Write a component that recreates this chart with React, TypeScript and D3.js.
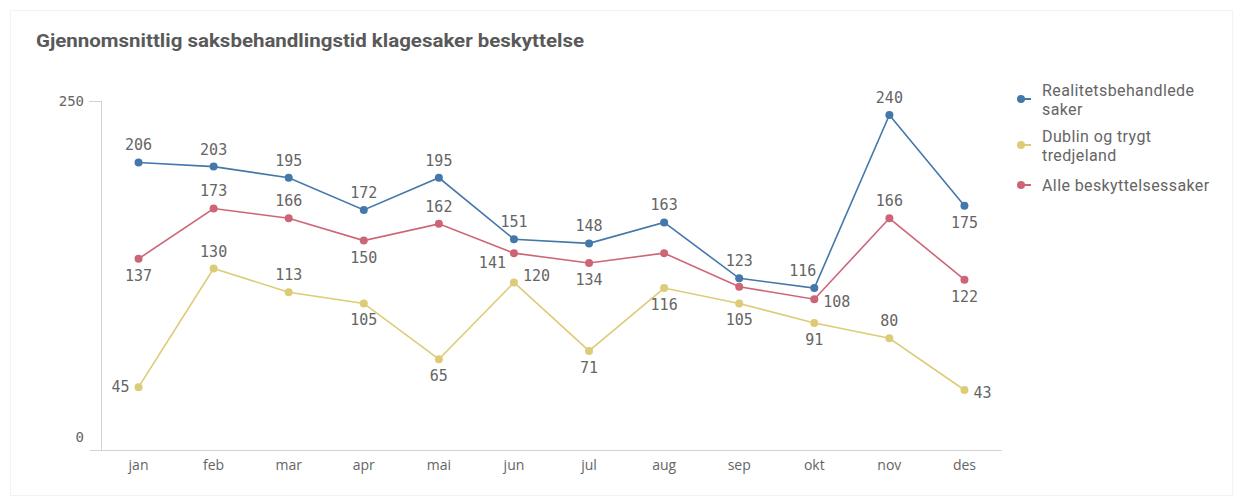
import React, { useEffect, useRef } from "react";
import * as d3 from "d3";

const title = "Gjennomsnittlig saksbehandlingstid klagesaker beskyttelse";
const months = ["jan", "feb", "mar", "apr", "mai", "jun", "jul", "aug", "sep", "okt", "nov", "des"];
const yTicks = [0, 250];

const realitet = [206, 203, 195, 172, 195, 151, 148, 163, 123, 116, 240, 175];
const dublin = [45, 130, 113, 105, 65, 120, 71, 116, 105, 91, 80, 43];
const alle = [137, 173, 166, 150, 162, 141, 134, 141, 117, 108, 166, 122];

// where each value label sits relative to its point ("" = no label)
const realitetLabels = ["t", "t", "t", "t", "t", "t", "t", "t", "t", "tl", "t", "b"];
const dublinLabels = ["l", "t", "t", "b", "b", "tr", "b", "b", "b", "b", "t", "r"];
const alleLabels = ["b", "t", "t", "b", "t", "bl", "b", "", "", "r", "t", "b"];

const series = [
  { name: ["Realitetsbehandlede", "saker"], values: realitet, labels: realitetLabels, color: "#4477aa" },
  { name: ["Dublin og trygt", "tredjeland"], values: dublin, labels: dublinLabels, color: "#ddcc77" },
  { name: ["Alle beskyttelsessaker"], values: alle, labels: alleLabels, color: "#cc6677" },
];

const placement = {
  t: { dx: 0, dy: -17, anchor: "middle" },
  b: { dx: 0, dy: 17, anchor: "middle" },
  l: { dx: -9, dy: 0, anchor: "end" },
  r: { dx: 9, dy: 3, anchor: "start" },
  tl: { dx: 2, dy: -17, anchor: "end" },
  tr: { dx: 9, dy: -6, anchor: "start" },
  bl: { dx: -8, dy: 10, anchor: "end" },
};

const W = 1234, H = 497;
const plot = { left: 101, right: 1002, top: 101, bottom: 450 };
const textColor = "#595959";
const labelColor = "#656565";
const axisColor = "#d2d2d2";
const monoFont = "'DejaVu Sans Mono', monospace";
const sansFont = "'Open Sans', 'Noto Sans', sans-serif";

const App = () => {
  const svgRef = useRef(null);

  useEffect(() => {
    const svg = d3.select(svgRef.current);
    svg.selectAll("*").remove();

    svg.append("rect")
      .attr("x", 10.5).attr("y", 10.5)
      .attr("width", W - 12).attr("height", H - 12)
      .attr("fill", "#fff").attr("stroke", "#f2f2f2");

    svg.append("text")
      .attr("x", 36).attr("y", 47)
      .attr("font-family", "Roboto, sans-serif")
      .attr("font-weight", 700)
      .attr("font-size", 18.5)
      .attr("textLength", 548)
      .attr("lengthAdjust", "spacingAndGlyphs")
      .attr("fill", textColor)
      .text(title);

    const x = d3.scalePoint().domain(months).range([plot.left, plot.right]).padding(0.5);
    const y = d3.scaleLinear().domain([0, 250]).range([plot.bottom, plot.top]);

    // y axis
    svg.append("line")
      .attr("x1", plot.left + 0.5).attr("x2", plot.left + 0.5)
      .attr("y1", y(250)).attr("y2", y(0))
      .attr("stroke", axisColor);
    svg.append("line")
      .attr("x1", 89).attr("x2", plot.left + 0.5)
      .attr("y1", y(250) + 0.5).attr("y2", y(250) + 0.5)
      .attr("stroke", axisColor);
    svg.selectAll(".ytick")
      .data(yTicks)
      .enter()
      .append("text")
      .attr("x", 84)
      .attr("y", d => d === 0 ? y(d) - 13 : y(d))
      .attr("text-anchor", "end")
      .attr("dominant-baseline", "central")
      .attr("font-family", monoFont)
      .attr("font-size", 14)
      .attr("fill", labelColor)
      .text(d => d);

    // x axis
    svg.append("line")
      .attr("x1", 90).attr("x2", plot.right)
      .attr("y1", plot.bottom + 0.5).attr("y2", plot.bottom + 0.5)
      .attr("stroke", axisColor);
    svg.selectAll(".xtick")
      .data(months)
      .enter()
      .append("text")
      .attr("x", d => x(d))
      .attr("y", 464)
      .attr("text-anchor", "middle")
      .attr("dominant-baseline", "central")
      .attr("font-family", sansFont)
      .attr("font-size", 14)
      .attr("fill", labelColor)
      .text(d => d);

    const line = d3.line().x((d, i) => x(months[i])).y(d => y(d));

    series.forEach(s => {
      svg.append("path")
        .datum(s.values)
        .attr("d", line)
        .attr("fill", "none")
        .attr("stroke", s.color)
        .attr("stroke-width", 1.6);
      svg.append("g").selectAll("circle")
        .data(s.values)
        .enter()
        .append("circle")
        .attr("cx", (d, i) => x(months[i]))
        .attr("cy", d => y(d))
        .attr("r", 4)
        .attr("fill", s.color);
    });

    series.forEach(s => {
      svg.append("g").selectAll("text")
        .data(s.values.map((v, i) => ({ v, i, p: s.labels[i] })).filter(d => d.p))
        .enter()
        .append("text")
        .attr("x", d => x(months[d.i]) + placement[d.p].dx)
        .attr("y", d => y(d.v) + placement[d.p].dy)
        .attr("text-anchor", d => placement[d.p].anchor)
        .attr("dominant-baseline", "central")
        .attr("font-family", monoFont)
        .attr("font-size", 15)
        .attr("fill", labelColor)
        .text(d => d.v);
    });

    // legend
    const legendY = [99, 145, 185];
    series.forEach((s, k) => {
      const g = svg.append("g").attr("transform", `translate(1021, ${legendY[k]})`);
      g.append("line").attr("x1", 0).attr("x2", 10).attr("y1", 0).attr("y2", 0)
        .attr("stroke", s.color).attr("stroke-width", 2);
      g.append("circle").attr("r", 4).attr("fill", s.color);
      const n = s.name.length;
      const txt = g.append("text")
        .attr("font-family", "Roboto, sans-serif")
        .attr("font-size", 16)
        .attr("letter-spacing", 0.4)
        .attr("fill", labelColor);
      s.name.forEach((t, j) => {
        txt.append("tspan")
          .attr("x", 21)
          .attr("y", (j - (n - 1) / 2) * 19 + 6)
          .text(t);
      });
    });
  }, []);

  return (
    <svg ref={svgRef} width={W} height={H} style={{ position: "absolute", left: 0, top: 0 }}></svg>
  );
};

export default App;
